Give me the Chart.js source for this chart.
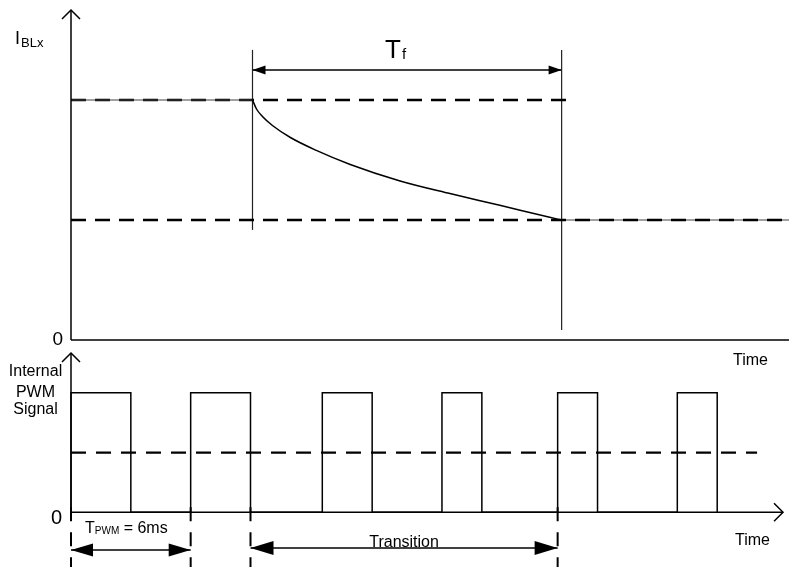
<!DOCTYPE html>
<html>
<head>
<meta charset="utf-8">
<script src="https://cdn.jsdelivr.net/npm/chart.js@4.4.1/dist/chart.umd.min.js"></script>
<style>
  html, body { margin: 0; padding: 0; background: #fff; }
  #wrap { position: relative; width: 789px; height: 567px; overflow: hidden; }
  canvas { position: absolute; left: 0; }
  #topChart { top: 0; }
  #pwmChart { top: 345px; }
</style>
</head>
<body>
<div id="wrap">
  <canvas id="topChart" width="789" height="372"></canvas>
  <canvas id="pwmChart" width="789" height="222"></canvas>
</div>
<script>
// time axis in ms, current in arbitrary units
var curveTime  = [9.1, 9.3, 9.6, 10.1, 11, 12.3, 14, 16.5, 19, 21.5, 24, 24.6];
var curveLevel = [80, 77, 74.5, 71.5, 67.5, 63.2, 58.5, 53, 48.8, 44.9, 40.9, 40];
var currentLevels = [80, 40];      // start level, target level
var tfMarks = [9.1, 24.6];          // transition start / end (top panel)

// internal PWM pulses (ms)
var pwmRise = [0, 6, 12.6, 18.6, 24.4, 30.4];
var pwmFall = [3, 9, 15.1, 20.6, 26.4, 32.4];
var pwmHigh = 6;
var pwmAvg = 3;
var pwmMarks = [0, 6, 9, 24.4];     // dashed markers under the axis
var tpwmSpan = [0, 6];
var transitionSpan = [9, 24.4];

var FONT = "'Liberation Sans', Arial, sans-serif";
var black = '#000';

function seg(data, extra) {
  return Object.assign({
    data: data,
    borderColor: black,
    borderWidth: 1.5,
    pointRadius: 0,
    fill: false,
    tension: 0,
    clip: false
  }, extra || {});
}

function head(ctx, x, y, dir, len, half) {
  ctx.beginPath();
  ctx.moveTo(x, y);
  ctx.lineTo(x - dir * len, y - half);
  ctx.lineTo(x - dir * len, y + half);
  ctx.closePath();
  ctx.fill();
}

function chevron(ctx, x, y, dx, dy) {
  // open arrow head, (dx,dy) = pointing direction
  ctx.beginPath();
  ctx.moveTo(x - dx * 9 - dy * 9, y - dy * 9 - dx * 9);
  ctx.lineTo(x, y);
  ctx.lineTo(x - dx * 9 + dy * 9, y - dy * 9 + dx * 9);
  ctx.stroke();
}

function text(ctx, s, x, y, size, align) {
  ctx.font = size + 'px ' + FONT;
  ctx.textAlign = align || 'left';
  ctx.textBaseline = 'alphabetic';
  ctx.fillText(s, x, y);
  return ctx.measureText(s).width;
}

// ---------- top panel: LED current ----------
var topLabels = {
  id: 'topLabels',
  afterDatasetsDraw: function (chart) {
    var ctx = chart.ctx, sx = chart.scales.x, sy = chart.scales.y;
    var x0 = sx.getPixelForValue(0), y0 = sy.getPixelForValue(0);
    ctx.save();
    ctx.fillStyle = black;
    ctx.strokeStyle = black;
    ctx.lineWidth = 1.5;
    chevron(ctx, x0, sy.getPixelForValue(110), 0, -1);

    // Tf arrow heads
    var ya = sy.getPixelForValue(90);
    head(ctx, sx.getPixelForValue(tfMarks[0]), ya, -1, 13, 4.5);
    head(ctx, sx.getPixelForValue(tfMarks[1]), ya, 1, 13, 4.5);

    var w = text(ctx, 'T', 385, 58, 26);
    text(ctx, 'f', 385 + w + 1, 59, 15);

    w = text(ctx, 'I', 15, 44, 18);
    text(ctx, 'BLx', 15 + w + 1, 47, 13);

    text(ctx, '0', x0 - 8, y0 + 5, 19, 'right');
    text(ctx, 'Time', 733, y0 + 25, 16);
    ctx.restore();
  }
};

var curvePts = curveTime.map(function (t, i) { return { x: t, y: curveLevel[i] }; });

new Chart(document.getElementById('topChart'), {
  type: 'line',
  data: {
    datasets: [
      seg([{ x: 0, y: 0 }, { x: 0, y: 110 }]),
      seg([{ x: 0, y: 0 }, { x: 36, y: 0 }]),
      seg([{ x: 0, y: currentLevels[0] }, { x: tfMarks[0], y: currentLevels[0] }], { borderWidth: 1.2, borderColor: '#444' }),
      seg([{ x: 0, y: currentLevels[0] }, { x: 24.9, y: currentLevels[0] }], { borderWidth: 2.4, borderDash: [15, 9] }),
      seg([{ x: 0, y: currentLevels[1] }, { x: 36, y: currentLevels[1] }], { borderWidth: 2.4, borderDash: [15, 9] }),
      seg([{ x: tfMarks[1], y: currentLevels[1] }, { x: 36, y: currentLevels[1] }], { borderWidth: 1.2, borderColor: '#444' }),
      seg(curvePts, { cubicInterpolationMode: 'monotone', borderWidth: 1.5 }),
      seg([{ x: tfMarks[0], y: 36.7 }, { x: tfMarks[0], y: 96.7 }], { borderWidth: 1.2, borderColor: '#222' }),
      seg([{ x: tfMarks[1], y: 3.3 }, { x: tfMarks[1], y: 96.7 }], { borderWidth: 1.2, borderColor: '#222' }),
      seg([{ x: tfMarks[0], y: 90 }, { x: tfMarks[1], y: 90 }], { borderWidth: 1.3 })
    ]
  },
  options: {
    responsive: false,
    animation: false,
    events: [],
    layout: { padding: { left: 71, right: 0, top: 10, bottom: 32 } },
    plugins: { legend: { display: false }, tooltip: { enabled: false } },
    scales: {
      x: { type: 'linear', min: 0, max: 36, display: false },
      y: { type: 'linear', min: 0, max: 110, display: false }
    }
  },
  plugins: [topLabels]
});

// ---------- bottom panel: internal PWM ----------
var pwmPts = [];
pwmRise.forEach(function (r, i) {
  pwmPts.push({ x: r, y: 0 }, { x: r, y: pwmHigh }, { x: pwmFall[i], y: pwmHigh }, { x: pwmFall[i], y: 0 });
});

var markSets = pwmMarks.map(function (m) {
  return seg([{ x: m, y: 0.25 }, { x: m, y: -2.75 }], { borderWidth: 2, borderDash: [14, 11] });
});

var pwmLabels = {
  id: 'pwmLabels',
  afterDatasetsDraw: function (chart) {
    var ctx = chart.ctx, sx = chart.scales.x, sy = chart.scales.y;
    var x0 = sx.getPixelForValue(0), y0 = sy.getPixelForValue(0);
    ctx.save();
    ctx.fillStyle = black;
    ctx.strokeStyle = black;
    ctx.lineWidth = 1.5;
    chevron(ctx, x0, sy.getPixelForValue(8), 0, -1);
    chevron(ctx, sx.getPixelForValue(35.7), y0, 1, 0);

    var y1 = sy.getPixelForValue(-1.89);
    head(ctx, sx.getPixelForValue(tpwmSpan[0]), y1, -1, 22, 6.5);
    head(ctx, sx.getPixelForValue(tpwmSpan[1]), y1, 1, 22, 6.5);
    var y2 = sy.getPixelForValue(-1.79);
    head(ctx, sx.getPixelForValue(transitionSpan[0]), y2, -1, 23, 7);
    head(ctx, sx.getPixelForValue(transitionSpan[1]), y2, 1, 23, 7);

    text(ctx, 'Internal', 35.5, 31, 16, 'center');
    text(ctx, 'PWM', 35.5, 52, 16, 'center');
    text(ctx, 'Signal', 35.5, 69, 16, 'center');
    text(ctx, '0', x0 - 9, y0 + 12, 20, 'right');

    var w = text(ctx, 'T', 85, y0 + 21, 16);
    var w2 = text(ctx, 'PWM', 85 + w, y0 + 22, 10);
    text(ctx, ' = 6ms', 85 + w + w2, y0 + 21, 16);

    var cx = (sx.getPixelForValue(transitionSpan[0]) + sx.getPixelForValue(transitionSpan[1])) / 2;
    text(ctx, 'Transition', cx, y0 + 35, 16, 'center');
    text(ctx, 'Time', 735, y0 + 33, 16);
    ctx.restore();
  }
};

new Chart(document.getElementById('pwmChart'), {
  type: 'line',
  data: {
    datasets: [
      seg([{ x: 0, y: 0 }, { x: 0, y: 8 }]),
      seg([{ x: 0, y: 0 }, { x: 35.7, y: 0 }]),
      seg(pwmPts, { borderWidth: 1.5 }),
      seg([{ x: 0, y: pwmAvg }, { x: 34.4, y: pwmAvg }], { borderWidth: 2.2, borderDash: [15, 10] }),
      seg([{ x: tpwmSpan[0], y: -1.89 }, { x: tpwmSpan[1], y: -1.89 }], { borderWidth: 1.5 }),
      seg([{ x: transitionSpan[0], y: -1.79 }, { x: transitionSpan[1], y: -1.79 }], { borderWidth: 1.5 })
    ].concat(markSets)
  },
  options: {
    responsive: false,
    animation: false,
    events: [],
    layout: { padding: { left: 71, right: 0, top: 8, bottom: 0 } },
    plugins: { legend: { display: false }, tooltip: { enabled: false } },
    scales: {
      x: { type: 'linear', min: 0, max: 36, display: false },
      y: { type: 'linear', min: -2.75, max: 8, display: false }
    }
  },
  plugins: [pwmLabels]
});
</script>
</body>
</html>
